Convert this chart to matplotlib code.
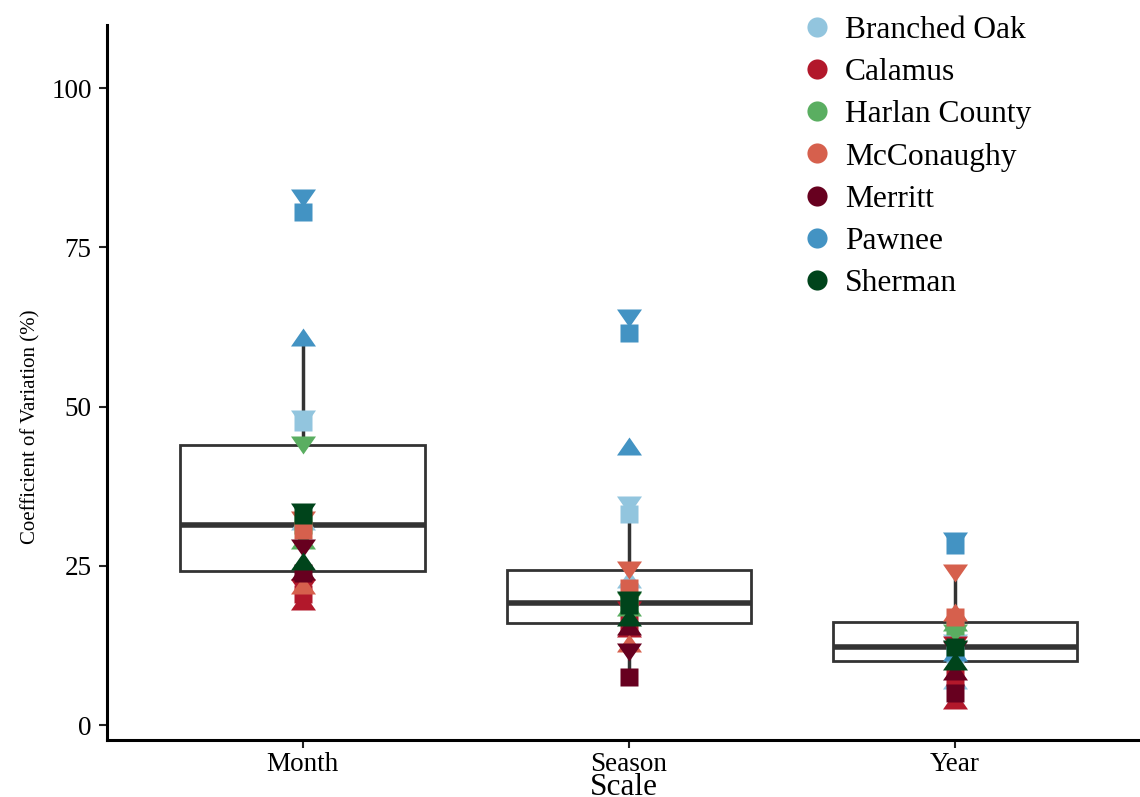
import matplotlib
matplotlib.use("Agg")
import matplotlib.pyplot as plt
from matplotlib.lines import Line2D
from matplotlib.path import Path
import numpy as np

plt.rcParams['font.family'] = ['Liberation Serif', 'DejaVu Serif']

scales = ["Month", "Season", "Year"]
lakes = ["Branched Oak", "Calamus", "Harlan County", "McConaughy", "Merritt", "Pawnee", "Sherman"]
colors = ["#92C5DE", "#B2182B", "#5AAE61", "#D6604D", "#67001F", "#4393C3", "#00441B"]

# values per lake: [square, triangle-up, triangle-down]
month = {
    "Branched Oak": [47.5, 32.0, 48.0],
    "Calamus": [20.5, 19.5, 21.5],
    "Harlan County": [31.4, 29.0, 44.0],
    "McConaughy": [30.6, 22.0, 32.2],
    "Merritt": [23.8, 24.2, 27.8],
    "Pawnee": [80.5, 60.9, 82.7],
    "Sherman": [33.0, 25.8, 33.4],
}
season = {
    "Branched Oak": [33.2, 23.0, 34.5],
    "Calamus": [16.0, 15.2, 18.0],
    "Harlan County": [19.2, 18.5, 19.4],
    "McConaughy": [21.5, 12.9, 24.4],
    "Merritt": [7.5, 15.6, 11.4],
    "Pawnee": [61.5, 43.8, 63.9],
    "Sherman": [18.8, 17.0, 19.6],
}
year = {
    "Branched Oak": [11.2, 7.0, 12.8],
    "Calamus": [7.5, 4.0, 12.6],
    "Harlan County": [15.5, 16.2, 14.5],
    "McConaughy": [16.9, 17.7, 23.9],
    "Merritt": [5.0, 8.5, 11.8],
    "Pawnee": [28.3, 11.5, 28.9],
    "Sherman": [12.2, 10.1, 11.9],
}
data = [month, season, year]

fig = plt.figure(figsize=(11.40, 7.97), dpi=100)
ax = fig.add_axes([107/1140, 57/797, 1 - 107/1140, (740-25)/797])

box_data = [np.concatenate([d[l] for l in lakes]) for d in data]
ax.boxplot(box_data, positions=[0, 1, 2], widths=0.75, showfliers=False,
           whis=1.5, patch_artist=True,
           boxprops=dict(facecolor='none', edgecolor='#333333', linewidth=2.0),
           medianprops=dict(color='#333333', linewidth=4.0),
           whiskerprops=dict(color='#333333', linewidth=2.5),
           capprops=dict(linewidth=0), zorder=1)

up = Path([(-1, -0.72), (1, -0.72), (0, 0.72), (-1, -0.72)], [1, 2, 2, 79])
down = Path([(-1, 0.72), (1, 0.72), (0, -0.72), (-1, 0.72)], [1, 2, 2, 79])

for xi, d in enumerate(data):
    for lake, c in zip(lakes, colors):
        sq, tu, td = d[lake]
        ax.plot([xi], [sq], marker='s', ms=13, color=c, mec='none', ls='none', zorder=3)
        ax.plot([xi], [tu], marker=up, ms=18, color=c, mec='none', ls='none', zorder=3)
        ax.plot([xi], [td], marker=down, ms=18, color=c, mec='none', ls='none', zorder=3)

ax.set_xlim(-0.6, 2.567)
ax.set_ylim(-2.35, 109.9)
ax.set_xticks([0, 1, 2])
ax.set_xticklabels(scales)
ax.set_yticks([0, 25, 50, 75, 100])
for s in ['top', 'right']:
    ax.spines[s].set_visible(False)
for s in ['left', 'bottom']:
    ax.spines[s].set_linewidth(2.2)
    ax.spines[s].set_color('black')
ax.tick_params(axis='both', length=6, width=1.5, color='#222222', labelsize=19.5, labelcolor='black')
ax.tick_params(axis='y', pad=5)
ax.tick_params(axis='x', pad=2.5)
ax.set_xlabel("Scale", fontsize=22.5, labelpad=-3)
ax.set_ylabel("Coefficient of Variation (%)", fontsize=15)
ax.yaxis.set_label_coords(40/1140, (797-427)/797, transform=fig.transFigure)

handles = [Line2D([], [], marker='o', ls='none', color=c, mec='none', ms=14.5) for c in colors]
ax.legend(handles, lakes, loc='upper left', bbox_to_anchor=(804/1140, 1 - 16/797),
          bbox_transform=fig.transFigure, frameon=False, fontsize=22.7,
          handletextpad=0.5, labelspacing=0.415, borderaxespad=0, borderpad=0,
          handlelength=0.8)

fig.savefig("out.png", dpi=100)
